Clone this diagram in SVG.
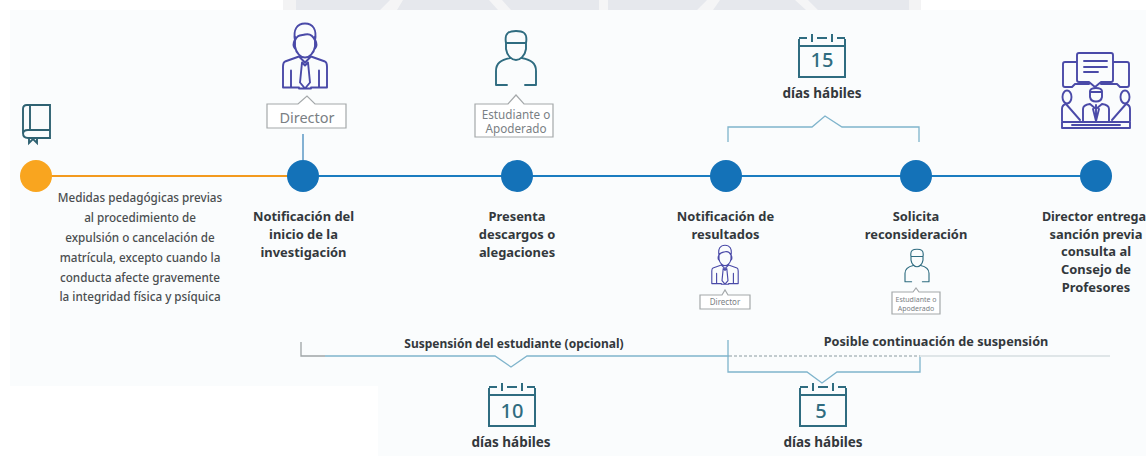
<svg xmlns="http://www.w3.org/2000/svg" width="1146" height="456" viewBox="0 0 1146 456">
<style>
text{font-family:"Noto Sans","Open Sans","Liberation Sans",sans-serif;text-anchor:middle}
.t{font-size:12.9px;font-weight:700;fill:#33383c}
.h{font-size:13.5px;font-weight:700;fill:#33383c}
.d{font-size:11.7px;font-weight:500;fill:#4a4e50}
.l{font-size:14.5px;fill:#7a8084}
.m{font-size:11.7px;fill:#7a8084}
.s{font-size:7px;fill:#7a8084}
.n{fill:#1472b8}
.bk{fill:none;stroke:#7fb4cc;stroke-width:1.3}
.tag{fill:#fff;stroke:#a4a8aa;stroke-width:1.2}
.p{fill:none;stroke:#4a4aa8;stroke-width:1.9;stroke-linecap:round;stroke-linejoin:round}
.g{fill:none;stroke:#2f6c80;stroke-width:1.9;stroke-linecap:round;stroke-linejoin:round}
.c{fill:none;stroke:#2f6c80;stroke-width:2}
.cn{font-size:20px;font-weight:500;fill:#2f6c80}
</style>
<defs>
<g id="boss"><path class="p" d="M-10-20V-10C-9-3-4 1 0 1S9-3 10-10V-20M-10-17C-12-13-12-10-10-8M10-17C12-13 12-10 10-8M-10-16C-12-27-8-33 0-33S12-27 10-16C8-21 4-23 0-22S-8-22-10-16ZM-6 0-20 5Q-22 6-22 10V31H-14M6 0 20 5Q22 6 22 10V31H14M-14 14V31H-6M14 14V31H6M-6 0 0 6 6 0M-3 6 0 9 3 6 5 26 0 32-5 26ZM-6 32H6"/></g>
<g id="stud"><path class="g" d="M-10-16V-9C-9-2-4 2 0 2S9-2 10-9V-16M-10-15C-12-26-6-27 0-27S12-26 10-15H-10M-6 0C-15 2-20 5-20 13V27H-9M6 0C15 2 20 5 20 13V27H9"/></g>
<g id="cal"><path class="c" d="M-23-17V21H23V-17M-23-18H-15M-5-18H5M15-18H23M-23-10H23"/><path class="c" stroke-width="3" d="M-10-22V-14M10-22V-14"/></g>
</defs>
<rect width="1146" height="456" fill="#fff"/>
<rect x="283" width="638" height="10" fill="#f3f3f4"/>
<rect x="296" width="613" height="10" fill="#e6e8ed"/>
<path d="M390 0H403L397 10H380ZM489 0H502L511 10H498ZM599 0H608V10H599ZM707 0H720L713 10H697ZM795 0H808L818 10H806Z" fill="#f5f5f6"/>
<path d="M10 10H1146V456H378V386H10Z" fill="#fafcfd"/>
<g id="connectors">
<path d="M36 176H303" stroke="#f39a1e" stroke-width="2" fill="none"/>
<path d="M303 176H1096" stroke="#1a7cc0" stroke-width="2" fill="none"/>
<path d="M303 134V160" stroke="#5b98c4" stroke-width="1.5" fill="none"/>
<path class="bk" d="M728 142V127H812L825 116 842 127H919V142"/>
<path d="M301 342V356H325" fill="none" stroke="#9ea4a6" stroke-width="1.3"/>
<path class="bk" d="M325 356H495L511 367 527 356H729"/>
<path class="bk" d="M728 340V372H807L822 383 837 372H920V357"/>
<path d="M729 356H920" stroke="#8a9aa0" stroke-width="1" stroke-dasharray="3 2" fill="none"/>
<path d="M920 356H1110" stroke="#c4cfd3" stroke-width="1" fill="none"/>
</g>
<g id="node-medidas">
<circle cx="36" cy="176" r="16" fill="#f9a51f"/>
<path d="M23 109Q23 105 27 105H50V138H28Q23 138 23 133ZM30 105V130M23 134Q23 130 28 130H50M29 138V143L33 139 37 143V138" fill="none" stroke="#2f6272" stroke-width="1.9"/>
<text class="d" x="140" y="202">Medidas pedagógicas previas</text>
<text class="d" x="140" y="222">al procedimiento de</text>
<text class="d" x="140" y="242">expulsión o cancelación de</text>
<text class="d" x="140" y="262">matrícula, excepto cuando la</text>
<text class="d" x="140" y="282">conducta afecte gravemente</text>
<text class="d" x="140" y="301">la integridad física y psíquica</text>
</g>
<g id="node-notificacion">
<circle cx="303" cy="176" r="16" class="n"/>
<use href="#boss" x="305" y="56.5"/>
<path class="tag" d="M267 128V104H298L307 96 315 104H346V128Z"/>
<text class="l" x="307" y="123">Director</text>
<text class="t" x="303.500" y="221">Notificación del</text>
<text class="t" x="303.500" y="239">inicio de la</text>
<text class="t" x="303.500" y="257">investigación</text>
</g>
<g id="node-presenta">
<circle cx="517" cy="176" r="16" class="n"/>
<use href="#stud" x="516" y="58"/>
<path class="tag" d="M475 137V104H508L516 95 524 104H553V137Z"/>
<text class="m" x="516" y="119">Estudiante o</text>
<text class="m" x="516" y="133">Apoderado</text>
<text class="t" x="517" y="221">Presenta</text>
<text class="t" x="517" y="239">descargos o</text>
<text class="t" x="517" y="257">alegaciones</text>
</g>
<g id="node-resultados">
<circle cx="726" cy="176" r="16" class="n"/>
<text class="t" x="725.500" y="221">Notificación de</text>
<text class="t" x="725.500" y="239">resultados</text>
<use href="#boss" transform="translate(725 265) scale(.6)"/>
<path class="tag" d="M700 309V295H722L725 290 728 295H750V309Z" stroke-width="1"/>
<text class="s" x="725" y="305" style="font-size:8px">Director</text>
</g>
<g id="node-solicita">
<circle cx="916" cy="176" r="16" class="n"/>
<text class="t" x="916" y="221">Solicita</text>
<text class="t" x="916" y="239">reconsideración</text>
<use href="#stud" transform="translate(917 265.500) scale(.6)"/>
<path class="tag" d="M892 314V292H913L916 288 919 292H940V314Z" stroke-width="1"/>
<text class="s" x="916" y="302">Estudiante o</text>
<text class="s" x="916" y="311">Apoderado</text>
</g>
<g id="node-director">
<circle cx="1096" cy="176" r="16" class="n"/>
<g class="p"><path d="M1079 53H1111Q1113 53 1113 55V80Q1113 82 1111 82H1101L1095 87 1089 82H1079Q1077 82 1077 80V55Q1077 53 1079 53ZM1084 61H1107M1084 67H1107M1084 72H1098M1077 62H1065Q1063 62 1063 64V85Q1063 87 1065 87H1072L1075 84H1089M1113 62H1127Q1129 62 1129 64V85Q1129 87 1127 87H1120L1117 84H1101"/><path d="M1090 91C1091 87 1101 87 1102 91V97C1101 103 1091 103 1090 97ZM1090 92H1102M1083 121V109Q1083 105 1090 104M1109 121V109Q1109 105 1102 104M1096 105V121M1090 104 1096 109 1102 104M1093 109 1096 121 1099 109"/><ellipse cx="1067" cy="97" rx="4.500" ry="6.500"/><ellipse cx="1125" cy="97" rx="4.500" ry="6.500"/><path d="M1062 121V109Q1062 105 1066 104L1080 120M1130 121V109Q1130 105 1126 104L1112 120M1062 122H1130V128H1062ZM1072 125H1120"/></g>
<text class="t" x="1094" y="221" style="font-size:12.600px">Director entrega</text>
<text class="t" x="1096" y="239">sanción previa</text>
<text class="t" x="1096" y="256">consulta al</text>
<text class="t" x="1096" y="274">Consejo de</text>
<text class="t" x="1096" y="292">Profesores</text>
</g>
<g id="label-15">
<use href="#cal" x="822" y="56"/>
<text class="cn" x="822" y="67">15</text>
<text class="h" x="822" y="98">días hábiles</text>
</g>
<g id="label-10">
<use href="#cal" x="512" y="405"/>
<text class="cn" x="512" y="418">10</text>
<text class="h" x="511" y="447">días hábiles</text>
</g>
<g id="label-5">
<use href="#cal" x="823" y="405"/>
<text class="cn" x="821" y="418">5</text>
<text class="h" x="823" y="447">días hábiles</text>
</g>
<text class="t" x="514" y="348" style="font-size:12px">Suspensión del estudiante (opcional)</text>
<text class="t" x="936" y="346" style="font-size:12.700px">Posible continuación de suspensión</text>
</svg>
